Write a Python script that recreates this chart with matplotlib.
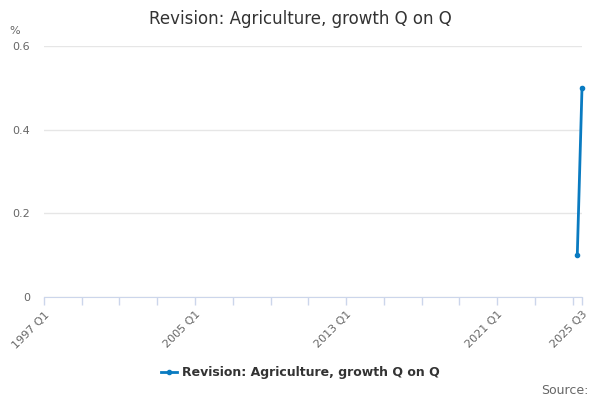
import matplotlib
matplotlib.use("Agg")
import matplotlib.pyplot as plt

# Quarter categories on the x axis
quarters = [f"{y} Q{q}" for y in range(1997, 2026) for q in range(1, 5)]
quarters = quarters[:quarters.index("2025 Q3") + 1]

# Series data (only the last two quarters have values)
point_quarters = ["2025 Q2", "2025 Q3"]
point_values = [0.1, 0.5]

labelled = ["1997 Q1", "2005 Q1", "2013 Q1", "2021 Q1", "2025 Q3"]
series_name = "Revision: Agriculture, growth Q on Q"
line_color = "#0a7bc1"

fig = plt.figure(figsize=(6, 4), dpi=100)
ax = fig.add_axes([0.0733, 0.2575, 0.8967, 0.6275])

xs = [quarters.index(q) for q in point_quarters]
ax.plot(xs, point_values, color=line_color, lw=2, marker="o", ms=3,
        label=series_name, clip_on=False)

ax.set_xlim(0, len(quarters) - 1)
ax.set_ylim(0, 0.6)
ax.set_yticks([0, 0.2, 0.4, 0.6])
ax.set_yticklabels(["0", "0.2", "0.4", "0.6"])
ax.grid(axis="y", color="#e6e6e6", lw=1)
ax.set_axisbelow(True)

tick_pos = list(range(0, len(quarters), 8)) + [len(quarters) - 1]
ax.set_xticks(tick_pos)
ax.set_xticklabels([quarters[i] if quarters[i] in labelled else "" for i in tick_pos],
                   rotation=45, ha="right", rotation_mode="anchor")

for s in ["top", "right", "left"]:
    ax.spines[s].set_visible(False)
ax.spines["bottom"].set_color("#ccd6eb")
ax.tick_params(axis="x", colors="#ccd6eb", length=6, width=1, labelcolor="#666666",
               labelsize=8, pad=3)
ax.tick_params(axis="y", length=0, labelcolor="#666666", labelsize=8, pad=10)
for lbl in ax.get_yticklabels():
    lbl.set_horizontalalignment("right")

fig.text(0.5, 0.952, series_name, ha="center", va="center", fontsize=12, color="#333333")
fig.text(0.015, 0.922, "%", ha="left", va="center", fontsize=8, color="#666666")
fig.text(0.98, 0.025, "Source:", ha="right", va="center", fontsize=9, color="#666666")

leg = fig.legend(loc="center", bbox_to_anchor=(0.5, 0.068), frameon=False,
                 handlelength=1.3, handletextpad=0.4,
                 prop={"weight": "bold", "size": 9})
for t in leg.get_texts():
    t.set_color("#333333")

fig.savefig("out.png", dpi=100)
